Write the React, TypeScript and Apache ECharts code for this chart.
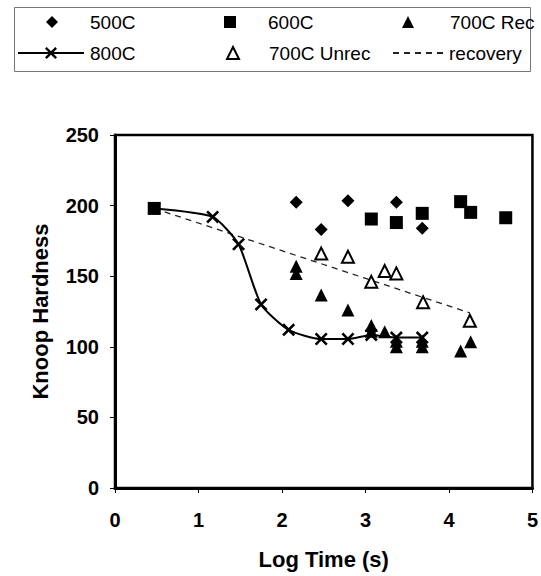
import React, { useEffect, useRef } from "react";
import * as echarts from "echarts";

const s500C: number[][] = [[2.17, 202.3], [2.47, 183], [2.79, 203.5], [3.37, 202.3], [3.68, 184]];
const s600C: number[][] = [[0.47, 198], [3.07, 190.5], [3.37, 188], [3.68, 194.5], [4.14, 202.8], [4.26, 195.2], [4.68, 191.4]];
const s700CRec: number[][] = [[2.17, 157], [2.17, 152], [2.47, 136.7], [2.79, 126], [3.07, 115], [3.07, 111], [3.23, 110.7], [3.37, 104], [3.37, 100], [3.68, 104], [3.68, 100], [4.14, 97], [4.26, 103.6]];
const s800C: number[][] = [[0.47, 198], [1.17, 192], [1.48, 172.6], [1.75, 130], [2.08, 112], [2.47, 105.5], [2.79, 105.5], [3.07, 108.4], [3.37, 106.5], [3.68, 106.5]];
const s700CUnrec: number[][] = [[2.47, 166], [2.79, 163.8], [3.07, 146], [3.23, 153.7], [3.37, 152], [3.69, 131.5], [4.25, 118.5]];
const recovery: number[][] = [[0.47, 198], [4.25, 124]];

const xTicks = [0, 1, 2, 3, 4, 5];
const yTicks = [0, 50, 100, 150, 200, 250];

const FONT = "'Liberation Sans', Arial, sans-serif";
const X_SYMBOL = "path://M0,1.4L1.4,0L5,3.6L8.6,0L10,1.4L6.4,5L10,8.6L8.6,10L5,6.4L1.4,10L0,8.6L3.6,5Z";

export default function App() {
  const ref = useRef<HTMLDivElement>(null);
  useEffect(() => {
    if (!ref.current) return;
    const chart = echarts.init(ref.current, undefined, { renderer: "svg" });
    const legendText = (pad: number) => ({
      fontFamily: FONT,
      fontSize: 19,
      color: "#000",
      lineHeight: 22,
      padding: [0, 0, 0, pad],
    });
    const mkLegend = (name: string, left: number, top: number, w: number, h: number, pad: number, extra: any = {}) => ({
      data: [name],
      left,
      top,
      itemWidth: w,
      itemHeight: h,
      padding: 0,
      selectedMode: false,
      textStyle: legendText(pad),
      ...extra,
    });
    chart.setOption({
      animation: false,
      backgroundColor: "#fff",
      textStyle: { fontFamily: FONT },
      graphic: [
        {
          type: "rect",
          left: 12,
          top: 5,
          shape: { width: 516, height: 64 },
          style: { fill: "none", stroke: "#777", lineWidth: 1 },
          silent: true,
        },
      ],
      legend: [
        mkLegend("500C", 46, 11, 12, 12, 27),
        mkLegend("600C", 224, 11, 12, 12, 27),
        mkLegend("700C Rec", 402, 11, 12, 12, 31),
        mkLegend("800C", 17, 42, 66, 15, 1),
        mkLegend("700C Unrec", 226, 42, 12, 12, 25),
        mkLegend("recovery", 392, 42, 51, 14, 0, {
          itemStyle: { color: "rgba(0,0,0,0)", borderWidth: 0, opacity: 0 },
        }),
      ],
      grid: { left: 115, right: 8, top: 135, bottom: 88, show: true, borderColor: "#000", borderWidth: 2.5, backgroundColor: "transparent" },
      xAxis: {
        type: "value",
        min: xTicks[0],
        max: xTicks[xTicks.length - 1],
        interval: 1,
        name: "Log Time (s)",
        nameLocation: "middle",
        nameGap: 60,
        nameTextStyle: { fontFamily: FONT, fontSize: 22, fontWeight: "bold", color: "#000" },
        axisLine: { show: true, lineStyle: { color: "#000", width: 3 } },
        axisTick: { show: true, inside: false, length: 5, lineStyle: { color: "#000", width: 1 } },
        axisLabel: { fontFamily: FONT, fontSize: 20, fontWeight: "bold", color: "#000", margin: 22 },
        splitLine: { show: false },
      },
      yAxis: {
        type: "value",
        min: yTicks[0],
        max: yTicks[yTicks.length - 1],
        interval: 50,
        name: "Knoop Hardness",
        nameLocation: "middle",
        nameGap: 64,
        nameRotate: 90,
        nameTextStyle: { fontFamily: FONT, fontSize: 22, fontWeight: "bold", color: "#000" },
        axisLine: { show: true, lineStyle: { color: "#000", width: 3 } },
        axisTick: { show: true, inside: false, length: 5, lineStyle: { color: "#000", width: 1 } },
        axisLabel: { fontFamily: FONT, fontSize: 20, fontWeight: "bold", color: "#000", margin: 16 },
        splitLine: { show: false },
      },
      series: [
        {
          name: "recovery",
          type: "line",
          data: recovery,
          symbol: "none",
          lineStyle: { color: "#222", width: 1.3, type: [6, 5] },
          itemStyle: { color: "#222" },
          z: 1,
          silent: true,
        },
        {
          name: "800C",
          type: "line",
          data: s800C,
          smooth: 0.2,
          symbol: X_SYMBOL,
          symbolSize: 13,
          showAllSymbol: true,
          lineStyle: { color: "#000", width: 2 },
          itemStyle: { color: "#000", borderWidth: 0, opacity: 1 },
          z: 2,
          silent: true,
        },
        {
          name: "500C",
          type: "scatter",
          data: s500C,
          symbol: "diamond",
          symbolSize: 13,
          itemStyle: { color: "#000", opacity: 1 },
          z: 3,
          silent: true,
        },
        {
          name: "600C",
          type: "scatter",
          data: s600C,
          symbol: "rect",
          symbolSize: 13,
          itemStyle: { color: "#000", opacity: 1 },
          z: 3,
          silent: true,
        },
        {
          name: "700C Rec",
          type: "scatter",
          data: s700CRec,
          symbol: "triangle",
          symbolSize: 13,
          itemStyle: { color: "#000", opacity: 1 },
          z: 3,
          silent: true,
        },
        {
          name: "700C Unrec",
          type: "scatter",
          data: s700CUnrec,
          symbol: "triangle",
          symbolSize: 12,
          itemStyle: { color: "#fff", borderColor: "#000", borderWidth: 2, opacity: 1 },
          z: 3,
          silent: true,
        },
      ],
    });
    return () => chart.dispose();
  }, []);
  return <div ref={ref} style={{ width: 541, height: 576, position: "absolute", left: 0, top: 0 }} />;
}
